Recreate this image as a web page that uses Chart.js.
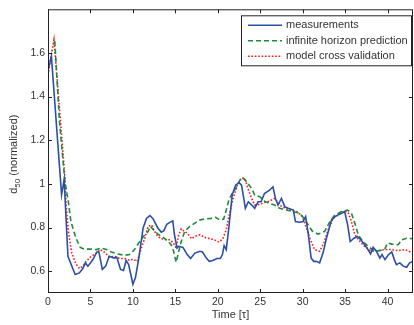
<!DOCTYPE html>
<html>
<head>
<meta charset="utf-8">
<script src="https://cdn.jsdelivr.net/npm/chart.js@4"></script>
<style>
  html, body { margin: 0; padding: 0; background: #fff; }
  #wrap { width: 414px; height: 325px; }
</style>
</head>
<body>
<div id="wrap"><canvas id="c" width="414" height="325"></canvas></div>
<script>
// Time axis ticks and value axis ticks
const timeTicks = [0, 5, 10, 15, 20, 25, 30, 35, 40];
const valueTicks = [0.6, 0.8, 1, 1.2, 1.4, 1.6];

// Measured d50 (normalized)
const measTime = [0, 0.4, 1.6, 1.9, 2.35, 3.2, 3.7, 4.1, 4.4, 4.7, 5.3, 5.75, 6.0, 6.4, 6.8, 7.2, 7.8, 8.1, 8.55, 8.9, 9.2, 9.5, 10.0, 10.3, 10.7, 11.2, 11.6, 12.0, 12.35, 12.95, 13.35, 13.65, 14.0, 14.5, 14.7, 14.9, 15.2, 15.4, 15.9, 16.4, 16.8, 17.3, 17.9, 18.2, 18.65, 19.0, 19.4, 19.9, 20.3, 20.55, 20.75, 21.0, 21.3, 21.7, 22.1, 22.5, 22.8, 23.0, 23.25, 23.6, 24.0, 24.35, 24.75, 25.1, 25.5, 26.1, 26.5, 26.8, 27.1, 27.5, 27.9, 28.3, 28.9, 29.15, 29.65, 30.05, 30.35, 30.65, 31.0, 31.3, 31.6, 32.0, 32.4, 32.8, 33.4, 33.8, 34.2, 34.6, 34.95, 35.3, 35.6, 36.05, 36.45, 36.85, 37.3, 37.7, 38.0, 38.3, 38.7, 39.1, 39.35, 39.7, 40.05, 40.5, 40.8, 41.05, 41.45, 41.85, 42.25, 42.6, 43.0];
const measValues = [1.52, 1.585, 0.95, 1.02, 0.668, 0.585, 0.592, 0.612, 0.638, 0.623, 0.653, 0.688, 0.688, 0.608, 0.623, 0.668, 0.66, 0.664, 0.608, 0.603, 0.649, 0.63, 0.54, 0.57, 0.66, 0.797, 0.842, 0.855, 0.842, 0.797, 0.779, 0.786, 0.815, 0.827, 0.83, 0.767, 0.706, 0.714, 0.709, 0.676, 0.658, 0.683, 0.691, 0.688, 0.66, 0.645, 0.649, 0.658, 0.658, 0.676, 0.717, 0.699, 0.797, 0.949, 0.994, 1.006, 0.994, 0.949, 0.888, 0.918, 0.903, 0.888, 0.918, 0.918, 0.956, 0.971, 0.986, 0.933, 0.903, 0.933, 0.895, 0.888, 0.88, 0.827, 0.824, 0.827, 0.85, 0.774, 0.66, 0.645, 0.645, 0.638, 0.683, 0.751, 0.835, 0.85, 0.858, 0.865, 0.873, 0.812, 0.736, 0.751, 0.759, 0.744, 0.721, 0.699, 0.679, 0.709, 0.691, 0.66, 0.676, 0.653, 0.673, 0.688, 0.653, 0.63, 0.638, 0.623, 0.618, 0.638, 0.645];

// Infinite horizon prediction
const predTime = [0.8, 1.36, 2.0, 2.4, 2.7, 3.3, 3.8, 4.3, 5.1, 5.7, 6.3, 6.9, 7.45, 8.2, 9.0, 9.6, 10.2, 10.8, 11.4, 11.8, 12.05, 12.45, 12.95, 13.55, 14.1, 14.5, 14.8, 15.1, 15.4, 15.7, 16.1, 16.7, 17.3, 17.9, 18.45, 19.25, 19.75, 20.2, 20.7, 21.0, 21.3, 21.6, 22.2, 22.7, 23.1, 23.55, 24.0, 24.35, 24.95, 25.5, 26.1, 26.7, 27.3, 28.1, 28.9, 29.65, 30.1, 30.6, 31.1, 31.8, 32.6, 33.2, 33.8, 34.6, 35.3, 35.75, 36.15, 36.55, 37.1, 37.7, 38.5, 39.1, 39.7, 40.0, 40.5, 41.25, 41.7, 42.25, 43.0];
const predValues = [1.655, 1.28, 1.009, 0.918, 0.827, 0.751, 0.709, 0.701, 0.701, 0.699, 0.706, 0.699, 0.688, 0.679, 0.673, 0.676, 0.699, 0.736, 0.767, 0.782, 0.805, 0.789, 0.77, 0.755, 0.74, 0.721, 0.691, 0.641, 0.691, 0.736, 0.782, 0.805, 0.82, 0.835, 0.839, 0.842, 0.847, 0.835, 0.839, 0.88, 0.925, 0.949, 0.986, 1.024, 1.024, 1.001, 0.979, 0.949, 0.941, 0.921, 0.91, 0.903, 0.888, 0.88, 0.873, 0.865, 0.845, 0.815, 0.785, 0.77, 0.782, 0.827, 0.858, 0.873, 0.88, 0.865, 0.82, 0.767, 0.736, 0.714, 0.691, 0.694, 0.703, 0.729, 0.724, 0.721, 0.744, 0.751, 0.749];

// Model cross validation
const cvTime = [0, 0.7, 1.36, 1.95, 2.15, 2.4, 2.8, 3.3, 3.7, 4.1, 4.5, 5.1, 5.7, 6.15, 6.6, 7.25, 7.85, 8.45, 9.0, 9.6, 10.0, 10.5, 11.0, 11.4, 11.8, 12.2, 12.45, 12.95, 13.35, 13.9, 14.3, 14.7, 15.1, 15.4, 15.7, 16.0, 16.4, 16.9, 17.3, 17.9, 18.45, 19.05, 19.6, 20.15, 20.6, 21.0, 21.3, 21.8, 22.3, 22.8, 23.2, 23.55, 24.0, 24.35, 24.95, 25.5, 26.1, 26.7, 27.3, 27.9, 28.5, 29.25, 29.9, 30.3, 30.85, 31.4, 32.0, 32.5, 33.0, 33.6, 34.2, 34.9, 35.35, 35.75, 36.15, 36.75, 37.3, 38.1, 38.9, 39.7, 40.5, 41.25, 42.05, 43.0];
const cvValues = [1.50, 1.66, 1.342, 1.05, 0.9, 0.782, 0.683, 0.633, 0.612, 0.623, 0.645, 0.668, 0.683, 0.699, 0.688, 0.664, 0.668, 0.658, 0.658, 0.65, 0.655, 0.645, 0.706, 0.751, 0.805, 0.812, 0.789, 0.759, 0.749, 0.744, 0.744, 0.733, 0.706, 0.767, 0.794, 0.785, 0.774, 0.749, 0.759, 0.767, 0.755, 0.749, 0.744, 0.733, 0.749, 0.789, 0.85, 0.933, 0.994, 1.027, 1.024, 0.979, 0.933, 0.903, 0.906, 0.915, 0.921, 0.933, 0.903, 0.888, 0.88, 0.873, 0.855, 0.815, 0.751, 0.699, 0.691, 0.729, 0.789, 0.842, 0.858, 0.876, 0.87, 0.827, 0.767, 0.736, 0.714, 0.691, 0.694, 0.699, 0.699, 0.694, 0.699, 0.683];

const seriesNames = ['measurements', 'infinite horizon prediction', 'model cross validation'];

const FONT = '"Liberation Sans", Arial, Helvetica, sans-serif';
const TEXT = '#333333';

const toPoints = (ts, vs) => ts.map((t, i) => ({ x: t, y: vs[i] }));

// Box frame with inward tick marks on all four sides
const framePlugin = {
  id: 'frameTicks',
  afterDraw(chart) {
    const { ctx, chartArea: a, scales } = chart;
    const len = 4;
    ctx.save();
    ctx.strokeStyle = '#222';
    ctx.lineWidth = 1;
    ctx.strokeRect(a.left + 0.5, a.top + 0.5, a.right - a.left - 1, a.bottom - a.top - 1);
    ctx.beginPath();
    scales.x.ticks.forEach(t => {
      const px = Math.round(scales.x.getPixelForValue(t.value)) + 0.5;
      ctx.moveTo(px, a.bottom); ctx.lineTo(px, a.bottom - len);
      ctx.moveTo(px, a.top); ctx.lineTo(px, a.top + len);
    });
    scales.y.ticks.forEach(t => {
      const py = Math.round(scales.y.getPixelForValue(t.value)) + 0.5;
      ctx.moveTo(a.left, py); ctx.lineTo(a.left + len, py);
      ctx.moveTo(a.right, py); ctx.lineTo(a.right - len, py);
    });
    ctx.stroke();
    ctx.restore();
  }
};

// Vertical axis title with a subscript
const yTitlePlugin = {
  id: 'yTitle',
  afterDraw(chart) {
    const { ctx, chartArea: a } = chart;
    const big = '11px ' + FONT, small = '8px ' + FONT;
    ctx.save();
    ctx.fillStyle = TEXT;
    ctx.textBaseline = 'alphabetic';
    ctx.font = big; const w1 = ctx.measureText('d').width;
    ctx.font = small; const w2 = ctx.measureText('50').width;
    ctx.font = big; const w3 = ctx.measureText(' (normalized)').width;
    const total = w1 + w2 + w3;
    ctx.translate(17, (a.top + a.bottom) / 2 + 3);
    ctx.rotate(-Math.PI / 2);
    let x = -total / 2;
    ctx.font = big; ctx.fillText('d', x, 0); x += w1;
    ctx.font = small; ctx.fillText('50', x, 3); x += w2;
    ctx.font = big; ctx.fillText(' (normalized)', x, 0);
    ctx.restore();
  }
};

// Boxed legend inside the upper right of the plot
const legendPlugin = {
  id: 'boxLegend',
  afterDraw(chart) {
    const { ctx, chartArea: a } = chart;
    const right = a.right - 1, top = a.top + 6;
    const w = 171, h = 51, left = right - w;
    ctx.save();
    ctx.fillStyle = '#fff';
    ctx.fillRect(left, top, w, h);
    ctx.strokeStyle = '#222';
    ctx.lineWidth = 1;
    ctx.strokeRect(left + 0.5, top + 0.5, w - 1, h - 1);
    ctx.font = '11px ' + FONT;
    ctx.textBaseline = 'middle';
    chart.data.datasets.forEach((ds, i) => {
      const y = top + 10 + i * 15.5;
      ctx.save();
      ctx.strokeStyle = ds.borderColor;
      ctx.lineWidth = ds.borderWidth;
      ctx.setLineDash(ds.borderDash || []);
      ctx.beginPath();
      ctx.moveTo(left + 7, y); ctx.lineTo(left + 41, y);
      ctx.stroke();
      ctx.restore();
      ctx.fillStyle = TEXT;
      ctx.fillText(ds.label, left + 45, y);
    });
    ctx.restore();
  }
};

new Chart(document.getElementById('c'), {
  type: 'line',
  data: {
    datasets: [
      { label: seriesNames[0], data: toPoints(measTime, measValues), borderColor: '#2b4ea6', borderWidth: 1.6, borderDash: [] },
      { label: seriesNames[1], data: toPoints(predTime, predValues), borderColor: '#1e8a3e', borderWidth: 1.6, borderDash: [5, 3] },
      { label: seriesNames[2], data: toPoints(cvTime, cvValues), borderColor: '#ff1a1a', borderWidth: 1.6, borderDash: [1.6, 1.8] }
    ]
  },
  options: {
    responsive: false,
    animation: false,
    devicePixelRatio: 1,
    layout: { padding: { left: 0, right: 1, top: 6, bottom: 0 } },
    elements: { point: { radius: 0 }, line: { tension: 0, fill: false, borderCapStyle: 'butt' } },
    plugins: { legend: { display: false }, tooltip: { enabled: false } },
    scales: {
      x: {
        type: 'linear', min: 0, max: 43,
        afterBuildTicks(scale) { scale.ticks = timeTicks.map(v => ({ value: v })); },
        afterFit(scale) { scale.height = 32; },
        grid: { display: false, drawTicks: false }, border: { display: false },
        ticks: { color: TEXT, font: { family: FONT, size: 10.5 }, padding: 3, maxRotation: 0,
                 callback: v => String(v) },
        title: { display: true, text: 'Time [τ]', color: TEXT, font: { family: FONT, size: 11 }, padding: { top: 0, bottom: 3 } }
      },
      y: {
        type: 'linear', min: 0.5, max: 1.8,
        afterBuildTicks(scale) { scale.ticks = valueTicks.map(v => ({ value: v })); },
        afterFit(scale) { scale.width = 48; },
        grid: { display: false, drawTicks: false }, border: { display: false },
        ticks: { color: TEXT, font: { family: FONT, size: 10.5 }, padding: 3,
                 callback: v => String(+v.toFixed(2)) }
      }
    }
  },
  plugins: [framePlugin, yTitlePlugin, legendPlugin]
});
</script>
</body>
</html>
